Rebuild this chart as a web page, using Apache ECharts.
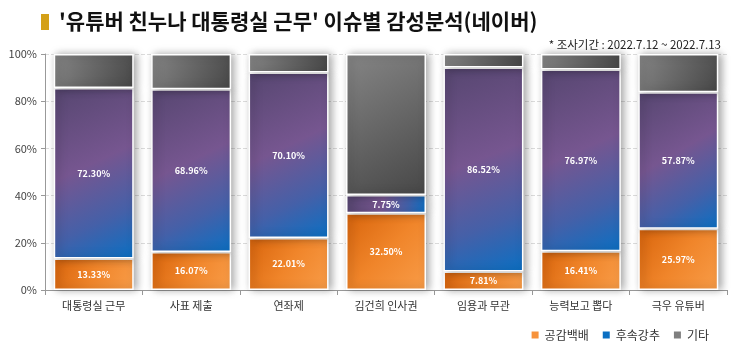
<!DOCTYPE html>
<html><head><meta charset="utf-8">
<script src="https://cdn.jsdelivr.net/npm/echarts@6/dist/echarts.min.js"></script>
<style>html,body{margin:0;padding:0;background:#fff}#c{width:736px;height:353px}</style>
</head><body><div id="c"></div>
<script>
var categories = ['대통령실 근무','사표 제출','연좌제','김건희 인사권','임용과 무관','능력보고 뽑다','극우 유튜버'];
var gongam = [13.33,16.07,22.01,32.50,7.81,16.41,25.97];
var husok = [72.30,68.96,70.10,7.75,86.52,76.97,57.87];
var gita = [14.37,14.97,7.89,59.75,5.67,6.62,16.16];
var yTicks = [0,20,40,60,80,100];

var chart = echarts.init(document.getElementById('c'));
var G = echarts.graphic.LinearGradient;
var font = '"Noto Sans CJK KR", "Noto Sans", sans-serif';
var lbl = {show:true,position:'inside',color:'#fff',fontWeight:'bold',fontSize:9,fontFamily:font,
  formatter:function(p){return p.value.toFixed(2)+'%';}};
var common = {type:'bar',stack:'s',barWidth:80};
var shadow = {borderColor:'#fff',borderWidth:1.5,shadowColor:'rgba(0,0,0,0.35)',shadowBlur:8,shadowOffsetX:3,shadowOffsetY:0};
chart.setOption({
  animation:false,
  textStyle:{fontFamily:font},
  title:[{text:'{m|▌}\'유튜버 친누나 대통령실 근무\' 이슈별 감성분석(네이버)',left:36,top:6,
    textStyle:{fontSize:21,fontWeight:'bold',color:'#111',fontFamily:font,
      rich:{m:{color:'#d4a017',fontSize:16,fontWeight:'bold',padding:[0,2,0,0]}}}},
    {text:'* 조사기간 : 2022.7.12 ~ 2022.7.13',right:10,top:34,textStyle:{fontSize:11.5,fontWeight:'normal',color:'#222',fontFamily:font}}],
  legend:{right:22,bottom:7,itemWidth:9,itemHeight:9,itemGap:12,icon:'rect',
    textStyle:{fontSize:12,color:'#333',fontFamily:font},
    data:[{name:'공감백배',itemStyle:{color:'#f7923a'}},{name:'후속강추',itemStyle:{color:'#0b6fc2'}},{name:'기타',itemStyle:{color:'#7f7f7f'}}]},
  grid:{left:45,right:9,top:54,bottom:63},
  xAxis:{type:'category',data:categories,axisLine:{lineStyle:{color:'#999'}},
    axisTick:{show:true,lineStyle:{color:'#999'}},
    axisLabel:{color:'#333',fontSize:11,margin:10,fontFamily:font}},
  yAxis:{type:'value',min:0,max:100,interval:20,
    axisLine:{show:true,lineStyle:{color:'#999'}},axisTick:{show:true,length:4,lineStyle:{color:'#999'}},
    axisLabel:{formatter:function(v){return v+'%';},color:'#444',fontSize:11,fontFamily:font},
    splitLine:{lineStyle:{color:'#ddd',type:'dashed'}}},
  series:[
    Object.assign({},common,{name:'공감백배',data:gongam,label:lbl,
      itemStyle:Object.assign({color:new G(0,0,1,1,[{offset:0,color:'#d8640c'},{offset:0.5,color:'#f0852a'},{offset:1,color:'#f89c48'}])},shadow)}),
    Object.assign({},common,{name:'후속강추',data:husok,label:lbl,
      itemStyle:Object.assign({color:new G(0,0,1,1,[{offset:0,color:'#564670'},{offset:0.45,color:'#765690'},{offset:0.75,color:'#4560a8'},{offset:1,color:'#0a70c4'}])},shadow)}),
    Object.assign({},common,{name:'기타',data:gita,label:{show:false},
      itemStyle:Object.assign({color:new G(0,0,1,1,[{offset:0,color:'#858585'},{offset:1,color:'#474747'}])},shadow)})
  ]
});
</script></body></html>
